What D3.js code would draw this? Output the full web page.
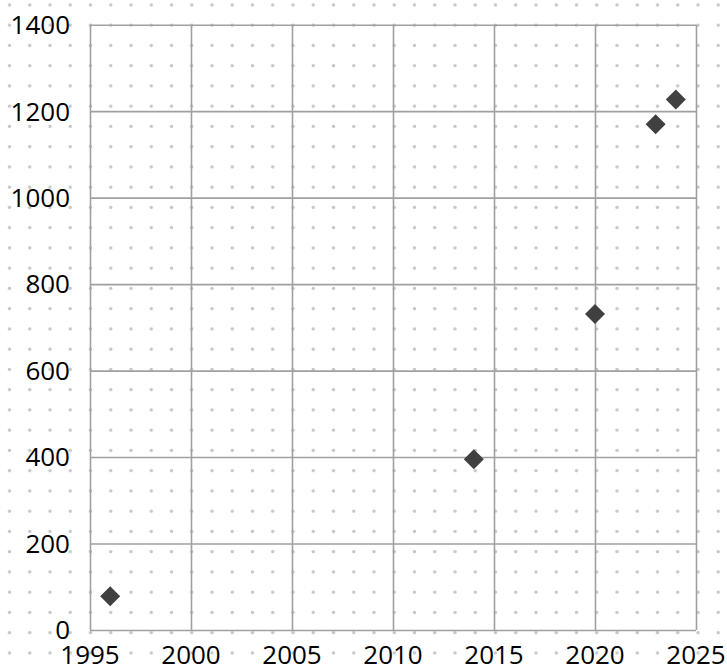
<!DOCTYPE html>
<html>
<head>
<meta charset="utf-8">
<script src="https://cdn.jsdelivr.net/npm/d3@7"></script>
<style>
  body { margin: 0; background: #fff; }
  svg { display: block; }
</style>
</head>
<body>
<div class="chart"></div>
<script>
var svgWidth = 727;
var svgHeight = 666;

// data
var years = [1996, 2014, 2020, 2023, 2024];
var values = [78, 395, 731, 1170, 1227];
var xTicks = [1995, 2000, 2005, 2010, 2015, 2020, 2025];
var yTicks = [0, 200, 400, 600, 800, 1000, 1200, 1400];

var margin = { top: 24.7, right: 31, bottom: 36, left: 90 };
var width = svgWidth - margin.left - margin.right;
var height = svgHeight - margin.top - margin.bottom;

var svg = d3
  .select(".chart")
  .append("svg")
  .attr("width", svgWidth)
  .attr("height", svgHeight);

// dotted paper background
var pat = svg.append("defs")
  .append("pattern")
  .attr("id", "dots")
  .attr("patternUnits", "userSpaceOnUse")
  .attr("x", -0.6)
  .attr("y", -5.2)
  .attr("width", 20.25)
  .attr("height", 20.25);
pat.append("circle")
  .attr("cx", 10.1)
  .attr("cy", 10.1)
  .attr("r", 1.7)
  .attr("fill", "#c6c6c6");

svg.append("rect")
  .attr("width", svgWidth)
  .attr("height", svgHeight)
  .attr("fill", "url(#dots)");

var chartGroup = svg.append("g")
  .attr("transform", `translate(${margin.left}, ${margin.top})`);

var xScale = d3.scaleLinear().domain([1995, 2025]).range([0, width]);
var yScale = d3.scaleLinear().domain([0, 1400]).range([height, 0]);

// gridlines
chartGroup.append("g")
  .attr("transform", `translate(0,${height})`)
  .call(d3.axisBottom(xScale).tickValues(xTicks).tickSize(-height).tickFormat(""))
  .call((g) => g.select(".domain").remove())
  .selectAll("line")
  .attr("stroke", "#a0a0a0")
  .attr("stroke-width", 1.6);

chartGroup.append("g")
  .call(d3.axisLeft(yScale).tickValues(yTicks).tickSize(-width).tickFormat(""))
  .call((g) => g.select(".domain").remove())
  .selectAll("line")
  .attr("stroke", "#a0a0a0")
  .attr("stroke-width", 1.6);

// tick labels
chartGroup.selectAll(".ylab")
  .data(yTicks)
  .enter()
  .append("text")
  .attr("class", "ylab")
  .attr("x", -20)
  .attr("y", (d) => yScale(d))
  .attr("dy", "0.36em")
  .attr("text-anchor", "end")
  .style("font-family", "'Open Sans', sans-serif")
  .style("font-size", "26px")
  .attr("fill", "#000")
  .text((d) => d);

chartGroup.selectAll(".xlab")
  .data(xTicks)
  .enter()
  .append("text")
  .attr("class", "xlab")
  .attr("x", (d) => xScale(d))
  .attr("y", height + 34.5)
  .attr("text-anchor", "middle")
  .style("font-family", "'Open Sans', sans-serif")
  .style("font-size", "26px")
  .attr("fill", "#000")
  .text((d) => d);

// diamond markers
var diamond = d3.symbol().type(d3.symbolSquare).size(200);
chartGroup.selectAll(".pt")
  .data(years)
  .enter()
  .append("path")
  .attr("class", "pt")
  .attr("d", diamond)
  .attr("transform", (d, i) => `translate(${xScale(d)},${yScale(values[i])}) rotate(45)`)
  .attr("fill", "#404040");
</script>
</body>
</html>
